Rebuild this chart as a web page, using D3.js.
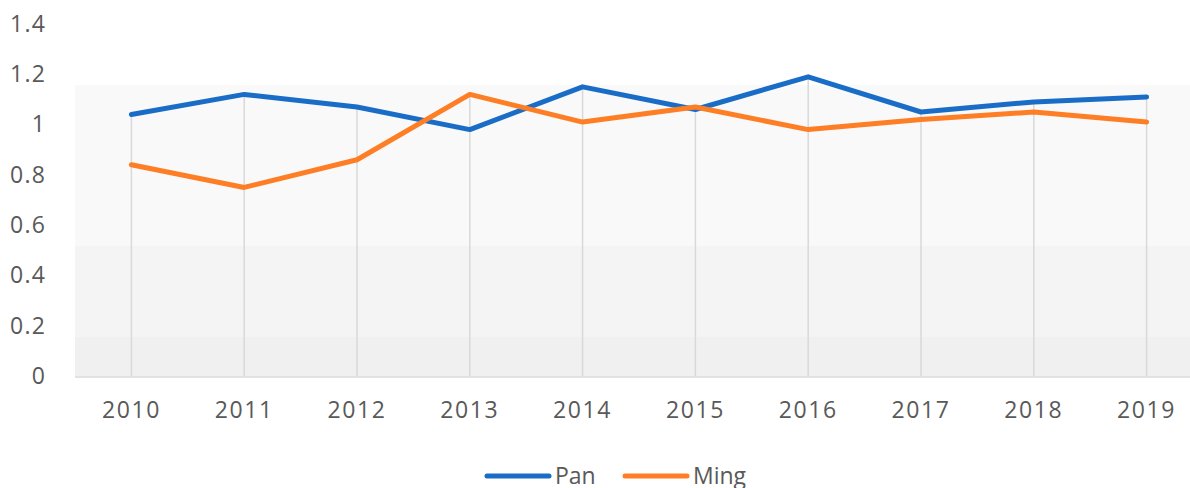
<!DOCTYPE html>
<html>
<head>
<meta charset="utf-8">
<script src="https://cdn.jsdelivr.net/npm/d3@7"></script>
<style>
  body { margin: 0; background: #fff; }
  text { font-family: "Open Sans", sans-serif; fill: #595959; }
</style>
</head>
<body>
<svg id="chart" width="1190" height="488"></svg>
<script>
const years = ["2010", "2011", "2012", "2013", "2014", "2015", "2016", "2017", "2018", "2019"];
const pan = [1.04, 1.12, 1.07, 0.98, 1.15, 1.06, 1.19, 1.05, 1.09, 1.11];
const ming = [0.84, 0.75, 0.86, 1.12, 1.01, 1.07, 0.98, 1.02, 1.05, 1.01];
const yTicks = [0, 0.2, 0.4, 0.6, 0.8, 1, 1.2, 1.4];
// background shading bands (value ranges)
const bandEdges = [0, 0.155, 0.52, 1.157];
const bandFills = ["#f0f0f0", "#f4f4f4", "#f9f9f9"];

const svg = d3.select("#chart");

const x = d3.scaleBand().domain(years).range([75, 1203]);
const y = d3.scaleLinear().domain([0, 1.4]).range([376, 24]);

const g = svg.append("g");

// shaded bands
g.selectAll(".band")
  .data(bandFills)
  .enter().append("rect")
    .attr("x", x.range()[0])
    .attr("width", x.range()[1] - x.range()[0])
    .attr("y", (d, i) => y(bandEdges[i + 1]))
    .attr("height", (d, i) => y(bandEdges[i]) - y(bandEdges[i + 1]))
    .attr("fill", d => d);

// vertical drop lines at categories
g.selectAll(".vline")
  .data(years)
  .enter().append("line")
    .attr("x1", d => x(d) + x.bandwidth() / 2)
    .attr("x2", d => x(d) + x.bandwidth() / 2)
    .attr("y1", (d, i) => y(Math.max(pan[i], ming[i])))
    .attr("y2", y(0))
    .attr("stroke", "#d9d9d9")
    .attr("stroke-width", 1.5);

// baseline
g.append("line")
  .attr("x1", x.range()[0]).attr("x2", x.range()[1])
  .attr("y1", y(0) + 1).attr("y2", y(0) + 1)
  .attr("stroke", "#d9d9d9").attr("stroke-width", 1.5);

// y axis labels
const yAxis = g.append("g")
  .attr("transform", "translate(46,0)")
  .call(d3.axisLeft(y).tickValues(yTicks).tickSize(0).tickPadding(0).tickFormat(d3.format("~g")));
yAxis.select(".domain").remove();
yAxis.selectAll("text")
  .attr("font-size", 23).attr("letter-spacing", 1.2)
  .attr("font-family", "Open Sans, sans-serif").attr("fill", "#595959");

// x axis labels
const xAxis = g.append("g")
  .attr("transform", "translate(0," + (y(0) + 26) + ")")
  .call(d3.axisBottom(x).tickSize(0).tickPadding(0));
xAxis.select(".domain").remove();
xAxis.selectAll("text")
  .attr("font-size", 23).attr("letter-spacing", 1.6)
  .attr("font-family", "Open Sans, sans-serif").attr("fill", "#595959");

const line = d3.line()
  .x((d, i) => x(years[i]) + x.bandwidth() / 2)
  .y(d => y(d));

const series = [
  { name: "Pan", values: pan, color: "#1a6dc6" },
  { name: "Ming", values: ming, color: "#fd7e24" }
];

series.forEach(s => {
  g.append("path")
    .attr("d", line(s.values))
    .attr("fill", "none")
    .attr("stroke", s.color)
    .attr("stroke-width", 5)
    .attr("stroke-linecap", "round")
    .attr("stroke-linejoin", "round");
});

// legend
const legend = svg.append("g").attr("transform", "translate(0,476)");
const legendX = [487, 625];
series.forEach((s, i) => {
  const lg = legend.append("g").attr("transform", "translate(" + legendX[i] + ",0)");
  lg.append("line")
    .attr("x1", 0).attr("x2", 62).attr("y1", 0).attr("y2", 0)
    .attr("stroke", s.color).attr("stroke-width", 5).attr("stroke-linecap", "round");
  lg.append("text")
    .attr("x", 68).attr("y", 8)
    .attr("font-size", 23)
    .text(s.name);
});
</script>
</body>
</html>
